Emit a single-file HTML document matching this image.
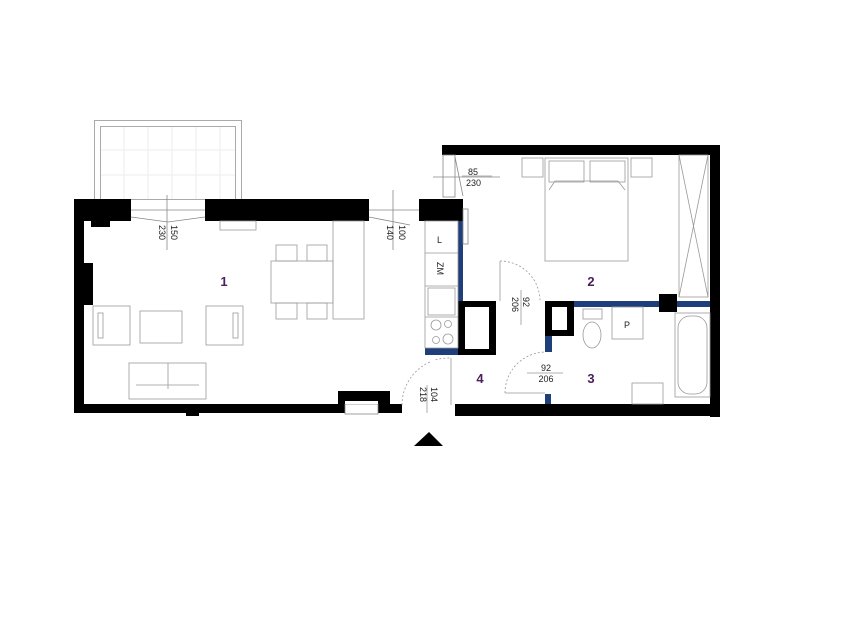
<!DOCTYPE html>
<html><head><meta charset="utf-8"><style>
html,body{margin:0;padding:0;background:#fff}
svg{display:block}
text{font-family:"Liberation Sans",sans-serif}
</style></head><body>
<svg width="842" height="632" viewBox="0 0 842 632" xmlns="http://www.w3.org/2000/svg">
<rect width="842" height="632" fill="#fff"/>
<!-- balcony -->
<g fill="none" stroke="#aaa" stroke-width="1">
<rect x="94.5" y="120.5" width="147" height="79"/>
<rect x="100.5" y="126.5" width="135" height="73"/>
</g>
<g stroke="#eee" stroke-width="1">
<line x1="124" y1="127" x2="124" y2="199"/><line x1="148" y1="127" x2="148" y2="199"/><line x1="172" y1="127" x2="172" y2="199"/><line x1="196" y1="127" x2="196" y2="199"/><line x1="220" y1="127" x2="220" y2="199"/>
<line x1="101" y1="150" x2="235" y2="150"/><line x1="101" y1="175" x2="235" y2="175"/>
</g>
<!-- walls black -->
<g fill="#000">
<rect x="74" y="199" width="57" height="22"/>
<rect x="205" y="199" width="164" height="22"/>
<rect x="419" y="199" width="44" height="22"/>
<rect x="91" y="221" width="19" height="6"/>
<rect x="74" y="199" width="10" height="214"/>
<rect x="84" y="263" width="9" height="42"/>
<rect x="74" y="404" width="328" height="9"/>
<rect x="186" y="413" width="13" height="3"/>
<rect x="338" y="391" width="52" height="13"/>
<rect x="442" y="145" width="278" height="10"/>
<rect x="710" y="145" width="10" height="272"/>
<rect x="455" y="404" width="265" height="12"/>
<rect x="458" y="301" width="38" height="54"/>
<rect x="545" y="301" width="29" height="35"/>
<rect x="659" y="294" width="18" height="18"/>
</g>
<rect x="465" y="307" width="24" height="42" fill="#fff"/>
<rect x="552" y="307" width="15" height="23" fill="#fff"/>
<rect x="345" y="404" width="33" height="10" fill="#fff" stroke="#888" stroke-width="0.8"/>
<rect x="345" y="401" width="33" height="3" fill="#fff"/>
<!-- blue walls -->
<g fill="#1f3f7a">
<rect x="458" y="221" width="5" height="80"/>
<rect x="425" y="348" width="33" height="7"/>
<rect x="574" y="301" width="85" height="6"/>
<rect x="677" y="301" width="33" height="6"/>
<rect x="545" y="336" width="7" height="16"/>
<rect x="545" y="394" width="6" height="10"/>
</g>
<!-- windows -->
<g fill="none" stroke="#888" stroke-width="0.8">
<line x1="131" y1="210" x2="205" y2="210"/>
<line x1="369" y1="210" x2="419" y2="210"/>
<polyline points="131,217 168,222 205,217"/>
<polyline points="369,217 410,225"/>
<rect x="443" y="155" width="12" height="42"/>
<line x1="455" y1="157" x2="463" y2="196"/>
<line x1="433" y1="177" x2="500" y2="177"/>
<line x1="167" y1="195" x2="167" y2="250"/>
<line x1="393" y1="190" x2="393" y2="250"/>
<rect x="463" y="209" width="5" height="35"/>
</g>
<!-- furniture -->
<g fill="none" stroke="#999" stroke-width="0.8">
<rect x="220" y="221" width="36" height="9"/>
<rect x="271" y="261" width="62" height="42"/>
<rect x="276" y="245" width="21" height="16"/><rect x="307" y="245" width="20" height="16"/>
<rect x="276" y="303" width="21" height="16"/><rect x="307" y="303" width="20" height="16"/>
<rect x="333" y="221" width="31" height="98"/>
<rect x="93" y="306" width="37" height="39"/><rect x="98" y="313" width="5" height="25"/>
<rect x="140" y="311" width="42" height="32"/>
<rect x="206" y="306" width="37" height="39"/><rect x="233" y="313" width="5" height="25"/>
<rect x="129" y="363" width="77" height="36"/><line x1="168" y1="363" x2="168" y2="389"/><line x1="136" y1="385" x2="199" y2="385"/>
<rect x="425" y="221" width="33" height="127"/>
<line x1="425" y1="253" x2="458" y2="253"/><line x1="425" y1="286" x2="458" y2="286"/><line x1="425" y1="317" x2="458" y2="317"/>
<rect x="428" y="288" width="27" height="27"/>
<circle cx="436" cy="325" r="5"/><circle cx="448" cy="324" r="3.5"/><circle cx="436" cy="340" r="3.5"/><circle cx="448" cy="339" r="5"/>
<rect x="545" y="158" width="83" height="103"/>
<rect x="549" y="161" width="35" height="21"/><rect x="590" y="161" width="35" height="21"/>
<polyline points="549,190 555,181 618,181 625,190"/>
<rect x="522" y="158" width="21" height="19"/><rect x="631" y="158" width="21" height="19"/>
<rect x="679" y="155" width="29" height="142"/>
<line x1="679" y1="155" x2="708" y2="297"/><line x1="708" y1="155" x2="679" y2="297"/>
<rect x="675" y="313" width="35" height="84"/><rect x="678" y="316" width="29" height="78" rx="12"/>
<rect x="583" y="309" width="19" height="10"/><ellipse cx="592" cy="335" rx="9" ry="13"/>
<rect x="612" y="307" width="31" height="32"/>
<rect x="632" y="383" width="31" height="21"/>
</g>
<!-- doors -->
<g fill="none" stroke="#999" stroke-width="0.8">
<line x1="451" y1="358" x2="451" y2="405"/>
<path d="M402,405 A47,47 0 0 1 451,358" stroke-dasharray="2,2"/>
<line x1="500" y1="261" x2="500" y2="301"/>
<path d="M500,261 A40,40 0 0 1 540,301" stroke-dasharray="2,2"/>
<line x1="505" y1="393" x2="545" y2="393"/>
<path d="M505,393 A41,41 0 0 1 545,352" stroke-dasharray="2,2"/>
<line x1="427" y1="385" x2="427" y2="413"/>
<line x1="521" y1="290" x2="521" y2="325"/>
<line x1="527" y1="373" x2="563" y2="373"/>
<line x1="462" y1="176" x2="492" y2="176"/>
</g>
<!-- labels -->
<g fill="#4a1f5c" font-weight="bold" font-size="13">
<text x="224" y="286" text-anchor="middle">1</text>
<text x="591" y="286" text-anchor="middle">2</text>
<text x="591" y="383" text-anchor="middle">3</text>
<text x="480" y="383" text-anchor="middle">4</text>
</g>
<g fill="#222" font-size="9">
<text x="468" y="175">85</text><text x="466" y="186">230</text>
<text x="546" y="371" text-anchor="middle">92</text><text x="546" y="382" text-anchor="middle">206</text>
<text x="432" y="367">L</text>
<text transform="translate(437,262) rotate(90)">ZM</text>
<text transform="translate(171,225) rotate(90)">150</text>
<text transform="translate(159,225) rotate(90)">230</text>
<text transform="translate(399,225) rotate(90)">100</text>
<text transform="translate(387,225) rotate(90)">140</text>
<text transform="translate(523,297) rotate(90)">92</text>
<text transform="translate(512,297) rotate(90)">206</text>
<text transform="translate(431,387) rotate(90)">104</text>
<text transform="translate(420,387) rotate(90)">218</text>
<text x="624" y="328">P</text>
</g>
<text x="437" y="243" font-size="9" fill="#222">L</text>
<rect x="430" y="360" width="10" height="12" fill="#fff"/>
<polygon points="414,446 443,446 429,432" fill="#000"/>
</svg>
</body></html>
